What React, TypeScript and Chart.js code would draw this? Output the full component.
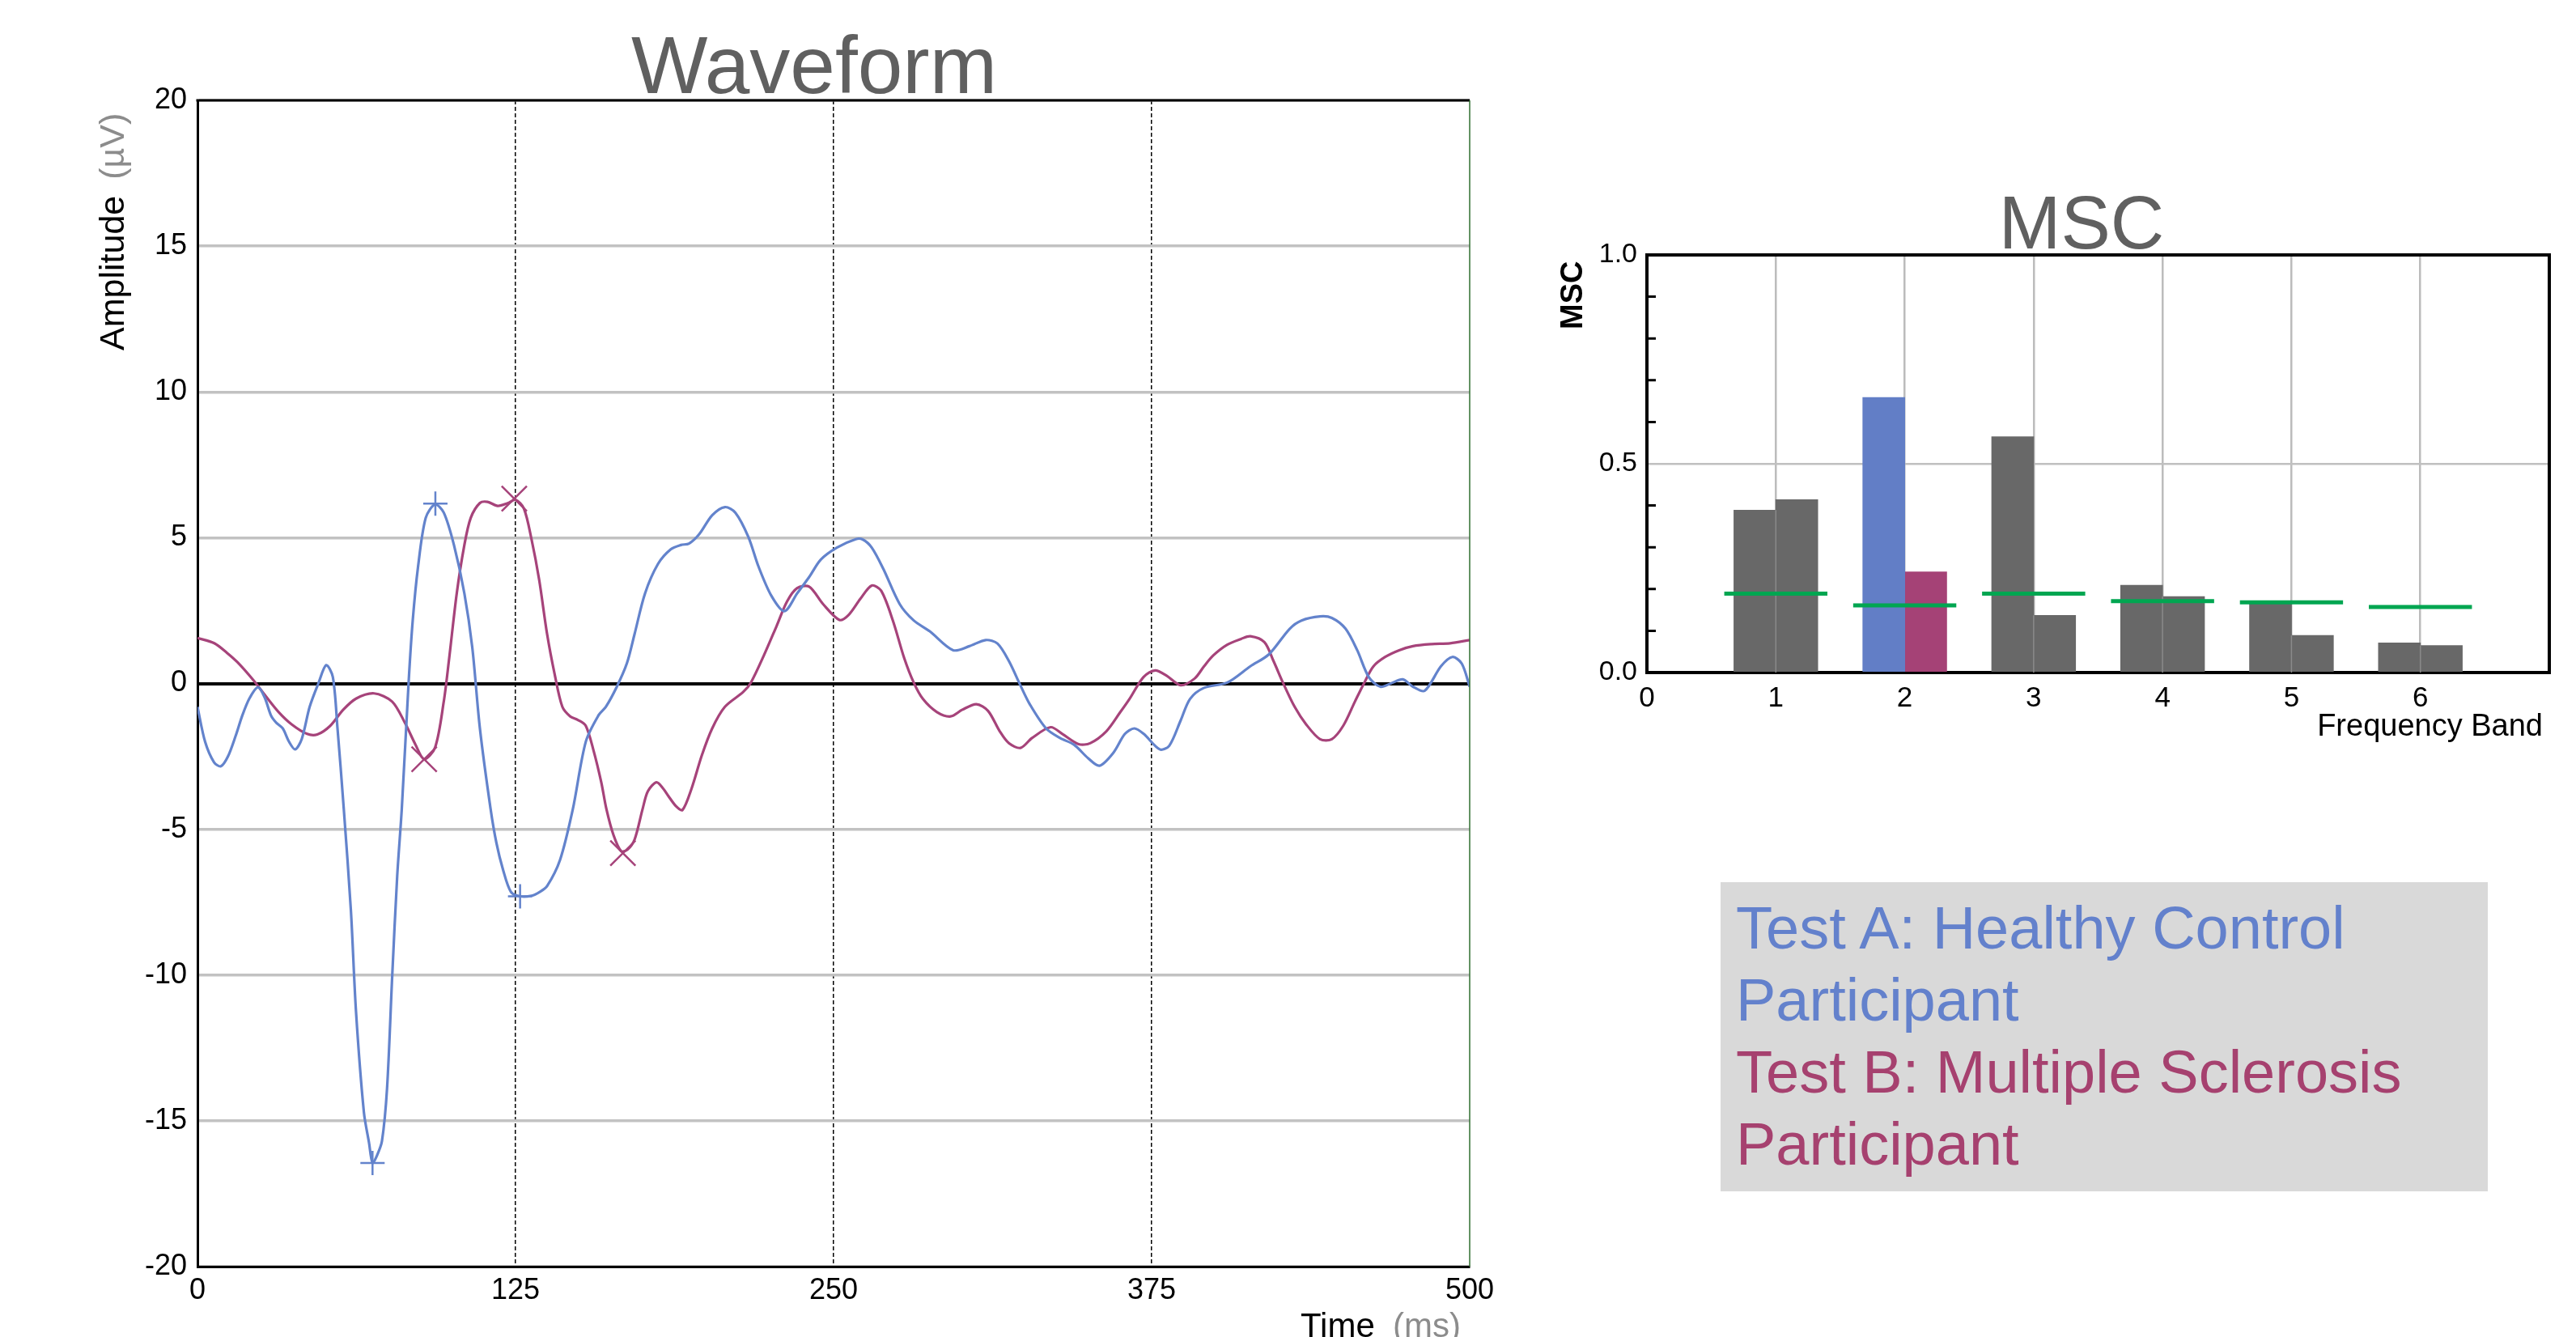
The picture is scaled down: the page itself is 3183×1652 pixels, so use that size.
import React, { useEffect, useRef } from "react";
import { Chart, registerables } from "chart.js";

Chart.register(...registerables);

const FONT = '"Liberation Sans", Arial, Helvetica, sans-serif';
const BLUE = "#6383cc";
const MAGENTA = "#a6437a";
const BAR_BLUE = "#627ec6";
const BAR_MAGENTA = "#a54276";
const BAR_GRAY = "#686868";
const GREEN = "#00a651";
const TITLE_GRAY = "#606060";

// ---------------- Waveform data (time in ms, amplitude in µV) ----------------
const timeA = [
  0, 3, 6.5, 9.2, 12, 15, 17.7, 20.5, 23.8, 26.5, 28.9, 31, 33.5, 36, 38.4, 41, 44.1, 47.5, 50.6, 53.2,
  55, 57.5, 60.3, 62.3, 65.4, 67.4, 68.8, 70.5, 72.5, 74.5, 76.5, 78.5, 80.3, 83, 84.6, 86.7, 89.7, 93.4,
  96.8, 100.8, 104.9, 108, 111, 115.2, 117.5, 120.1, 123.2, 126.8, 131.3, 134.5, 137.4, 142.5, 147.5,
  152.6, 157.7, 160.5, 164.7, 168.8, 171.8, 175.9, 181, 186, 190, 193.2, 197.2, 202.3, 207.3, 211.4,
  216.5, 220.5, 225.6, 230.7, 235.7, 240.4, 245, 251.3, 258.7, 261.4, 265, 269.6, 276, 281.5, 287.8, 297,
  303.4, 309.8, 314.4, 318.9, 323.4, 327.1, 333.5, 339, 344.5, 350, 354.5, 360, 364.5, 368.2, 371.9,
  378.2, 381.9, 386.4, 390.1, 395.6, 404.7, 413.8, 421.1, 429.3, 433.9, 441.2, 445.8, 451.2, 455.8,
  460.4, 464.9, 469, 473.7, 477.7, 482.3, 488.7, 493.2, 496.9, 500,
];
const ampA = [
  -0.8, -2.0, -2.7, -2.84, -2.5, -1.8, -1.08, -0.5, -0.13, -0.5, -1.1, -1.35, -1.54, -2.0, -2.26, -1.9,
  -0.8, 0.0, 0.63, 0.22, -1.5, -4.3, -7.78, -11.24, -14.7, -15.74, -16.44, -16.2, -15.7, -13.9, -10.1,
  -6.6, -4.3, 0.06, 2.16, 4.01, 5.68, 6.14, 5.86, 4.75, 3.09, 1.24, -1.54, -4.3, -5.47, -6.39, -7.15,
  -7.3, -7.28, -7.15, -6.95, -6.05, -4.32, -2.0, -1.08, -0.8, -0.13, 0.7, 1.7, 3.09, 4.1, 4.6, 4.75, 4.8,
  5.12, 5.77, 6.05, 5.86, 5.03, 4.01, 3.0, 2.48, 3.09, 3.65, 4.25, 4.66, 4.95, 4.94, 4.66, 3.92, 2.72,
  2.16, 1.79, 1.14, 1.28, 1.49, 1.37, 0.77, -0.06, -0.71, -1.54, -1.87, -2.1, -2.56, -2.82, -2.37, -1.73,
  -1.54, -1.73, -2.26, -2.14, -1.27, -0.53, -0.15, 0.03, 0.59, 1.0, 1.88, 2.16, 2.3, 2.25, 1.88, 1.14,
  0.21, -0.11, 0.0, 0.14, -0.11, -0.25, 0.59, 0.91, 0.68, -0.11,
];
const timeB = [
  0, 6.6, 11.6, 15.7, 21.8, 26.8, 31.9, 37, 43.1, 47.1, 52.2, 57.3, 62.3, 69.4, 76.5, 81.6, 85.7, 89.1,
  93.4, 96.8, 98.8, 101.9, 104.9, 107.4, 111, 114, 118, 122.1, 125, 128.3, 131.3, 134.3, 137.4, 140.4,
  143.4, 146.5, 149.5, 152.6, 155.6, 158.7, 160.7, 163.5, 166.5, 169, 171.8, 174.9, 177, 180.4, 183, 185,
  188, 190.6, 194.2, 198.2, 202.3, 207.3, 214.5, 217.5, 222.6, 227.6, 231.7, 235.7, 240.4, 245.9, 252.3,
  255.9, 260.5, 265, 268.7, 273.3, 277.8, 281.5, 285.1, 290.6, 296, 300.6, 306.1, 310.7, 315.3, 318.9,
  323.5, 328, 335.3, 339.9, 346.3, 350.8, 357.2, 362.7, 366.3, 371.8, 376.4, 381, 386.4, 391.9, 395.6,
  399.2, 404.7, 410.2, 413.8, 419.3, 422.9, 426.6, 431.2, 435.7, 441.2, 445.8, 450.3, 454.9, 458.6, 462.2,
  466.8, 472.3, 477.7, 485, 492.3, 500,
];
const ampB = [
  1.56, 1.38, 1.05, 0.73, 0.13, -0.43, -0.98, -1.4, -1.73, -1.75, -1.45, -0.9, -0.52, -0.34, -0.62, -1.36,
  -2.1, -2.6, -2.19, -0.62, 0.77, 3.09, 4.75, 5.68, 6.19, 6.23, 6.09, 6.19, 6.3, 6.0, 4.94, 3.55, 1.7,
  0.31, -0.8, -1.13, -1.25, -1.45, -2.28, -3.39, -4.3, -5.2, -5.75, -5.7, -5.35, -4.32, -3.7, -3.39, -3.6,
  -3.85, -4.2, -4.34, -3.6, -2.47, -1.54, -0.8, -0.29, 0.03, 0.96, 1.97, 2.81, 3.27, 3.32, 2.72, 2.18,
  2.35, 2.9, 3.36, 3.18, 2.16, 0.86, 0.03, -0.53, -0.98, -1.13, -0.9, -0.71, -0.94, -1.64, -2.05, -2.21,
  -1.87, -1.5, -1.73, -2.08, -2.05, -1.64, -0.98, -0.53, 0.22, 0.45, 0.26, -0.06, 0.17, 0.59, 0.96, 1.33,
  1.53, 1.62, 1.42, 0.77, 0.03, -0.8, -1.4, -1.91, -1.91, -1.45, -0.62, 0.03, 0.59, 0.91, 1.14, 1.28,
  1.35, 1.38, 1.49,
];
const peakTimeA = [68.8, 93.5, 126.8];
const peakAmpA = [-16.45, 6.17, -7.3];
const peakTimeB = [89.1, 124.5, 167.2];
const peakAmpB = [-2.6, 6.34, -5.82];
const timeTicks = [0, 125, 250, 375, 500];
const ampTicks = [-20, -15, -10, -5, 0, 5, 10, 15, 20];

// ---------------- MSC data ----------------
const bands = [1, 2, 3, 4, 5, 6];
const bandAxisTicks = [0, 1, 2, 3, 4, 5, 6, 7];
const mscA = [0.389, 0.659, 0.565, 0.209, 0.169, 0.071];
const mscB = [0.414, 0.241, 0.137, 0.182, 0.089, 0.065];
const mscThreshold = [0.189, 0.161, 0.189, 0.171, 0.168, 0.157];
const significant = [false, true, false, false, false, false];
const mscTicks = [0, 0.5, 1.0];
const mscMinorTicks = [0.1, 0.2, 0.3, 0.4, 0.6, 0.7, 0.8, 0.9];

const legendLinesA = ["Test A: Healthy Control", "Participant"];
const legendLinesB = ["Test B: Multiple Sclerosis", "Participant"];

Chart.defaults.font.family = FONT;

const TRANSPARENT = "rgba(0,0,0,0)";

const waveformDecor = {
  id: "waveformDecor",
  afterDatasetsDraw(chart: any) {
    const { ctx, chartArea } = chart;
    const { left, right, top, bottom } = chartArea;
    ctx.save();
    ctx.strokeStyle = "#000";
    ctx.lineWidth = 3;
    ctx.beginPath();
    ctx.moveTo(left - 1.5, top);
    ctx.lineTo(right, top);
    ctx.stroke();
    ctx.strokeStyle = "#2f6e2f";
    ctx.lineWidth = 1.5;
    ctx.beginPath();
    ctx.moveTo(right, top);
    ctx.lineTo(right, bottom);
    ctx.stroke();
    ctx.restore();
  },
  afterDraw(chart: any) {
    const { ctx, chartArea } = chart;
    const { left, right, top, bottom } = chartArea;
    ctx.save();
    ctx.font = `100px ${FONT}`;
    ctx.fillStyle = TITLE_GRAY;
    ctx.textAlign = "center";
    ctx.textBaseline = "alphabetic";
    ctx.fillText("Waveform", (left + right) / 2 - 24, top - 9);
    ctx.save();
    ctx.translate(153, 433);
    ctx.rotate(-Math.PI / 2);
    ctx.font = `43px ${FONT}`;
    ctx.textAlign = "left";
    ctx.fillStyle = "#000";
    ctx.fillText("Amplitude", 0, 0);
    const w = ctx.measureText("Amplitude").width;
    ctx.fillStyle = "#8c8c8c";
    ctx.fillText("(µV)", w + 20, 0);
    ctx.restore();
    ctx.font = `42px ${FONT}`;
    ctx.textAlign = "left";
    ctx.fillStyle = "#000";
    ctx.fillText("Time", right - 209, bottom + 87);
    ctx.fillStyle = "#8c8c8c";
    ctx.fillText("(ms)", right - 95, bottom + 87);
    ctx.restore();
  },
};

const mscDecor = {
  id: "mscDecor",
  afterDatasetDraw(chart: any, args: any) {
    if (args.index !== 0) return;
    const { ctx } = chart;
    const xs = chart.scales.x;
    const ys = chart.scales.y;
    ctx.save();
    ctx.strokeStyle = "#8a8a8a";
    ctx.lineWidth = 1.5;
    bands.forEach((b, i) => {
      if (significant[i]) return;
      const x = xs.getPixelForValue(b);
      const yTop = ys.getPixelForValue(Math.min(mscA[i], mscB[i]));
      ctx.beginPath();
      ctx.moveTo(x, ys.getPixelForValue(0));
      ctx.lineTo(x, yTop);
      ctx.stroke();
    });
    ctx.restore();
  },
  afterDatasetsDraw(chart: any) {
    const { ctx, chartArea } = chart;
    const { left, right, top, bottom } = chartArea;
    const ys = chart.scales.y;
    ctx.save();
    ctx.strokeStyle = "#000";
    ctx.lineWidth = 4;
    ctx.beginPath();
    ctx.moveTo(left - 2, top);
    ctx.lineTo(right + 2, top);
    ctx.moveTo(right, top);
    ctx.lineTo(right, bottom + 2);
    ctx.stroke();
    ctx.lineWidth = 3;
    ctx.beginPath();
    mscMinorTicks.forEach((v) => {
      const y = ys.getPixelForValue(v);
      ctx.moveTo(left, y);
      ctx.lineTo(left + 11, y);
    });
    ctx.stroke();
    ctx.restore();
  },
  afterDraw(chart: any) {
    const { ctx, chartArea } = chart;
    const { left, right, top, bottom } = chartArea;
    ctx.save();
    ctx.font = `92px ${FONT}`;
    ctx.fillStyle = TITLE_GRAY;
    ctx.textAlign = "center";
    ctx.textBaseline = "alphabetic";
    ctx.fillText("MSC", 672, top - 8);
    ctx.save();
    ctx.translate(left - 80, top + 92);
    ctx.rotate(-Math.PI / 2);
    ctx.font = `bold 38px ${FONT}`;
    ctx.fillStyle = "#000";
    ctx.textAlign = "left";
    ctx.fillText("MSC", 0, 0);
    ctx.restore();
    ctx.font = `38px ${FONT}`;
    ctx.fillStyle = "#000";
    ctx.textAlign = "right";
    ctx.fillText("Frequency Band", right - 8, bottom + 78);
    ctx.restore();
  },
};

function waveformConfig(): any {
  return {
    type: "line",
    data: {
      datasets: [
        {
          label: "Test B",
          data: timeB.map((t, i) => ({ x: t, y: ampB[i] })),
          borderColor: MAGENTA,
          borderWidth: 3.2,
          pointRadius: 0,
          tension: 0.3,
          order: 3,
        },
        {
          label: "Test A",
          data: timeA.map((t, i) => ({ x: t, y: ampA[i] })),
          borderColor: BLUE,
          borderWidth: 3.2,
          pointRadius: 0,
          tension: 0.3,
          order: 2,
        },
        {
          label: "Test B peaks",
          data: peakTimeB.map((t, i) => ({ x: t, y: peakAmpB[i] })),
          showLine: false,
          pointStyle: "crossRot",
          pointRadius: 22,
          pointBorderWidth: 2.5,
          pointBorderColor: MAGENTA,
          borderColor: MAGENTA,
          order: 1,
        },
        {
          label: "Test A peaks",
          data: peakTimeA.map((t, i) => ({ x: t, y: peakAmpA[i] })),
          showLine: false,
          pointStyle: "cross",
          pointRadius: 15,
          pointBorderWidth: 2.5,
          pointBorderColor: BLUE,
          borderColor: BLUE,
          order: 0,
        },
      ],
    },
    options: {
      animation: false,
      responsive: false,
      maintainAspectRatio: false,
      events: [],
      layout: { padding: { left: 0, right: 84, top: 124, bottom: 0 } },
      plugins: { legend: { display: false }, tooltip: { enabled: false }, title: { display: false } },
      scales: {
        x: {
          type: "linear",
          min: 0,
          max: 500,
          afterBuildTicks: (s: any) => {
            s.ticks = timeTicks.map((v) => ({ value: v }));
          },
          afterFit: (s: any) => {
            s.height = 87;
          },
          ticks: {
            color: "#000",
            font: { family: FONT, size: 36 },
            padding: 8,
            maxRotation: 0,
            autoSkip: false,
          },
          grid: {
            drawTicks: false,
            color: (c: any) =>
              c.tick && (c.tick.value === timeTicks[0] || c.tick.value === timeTicks[timeTicks.length - 1])
                ? TRANSPARENT
                : "#000",
            lineWidth: 1.5,
          },
          border: { display: true, color: "#000", width: 3, dash: [5, 3] },
        },
        y: {
          type: "linear",
          min: -20,
          max: 20,
          afterBuildTicks: (s: any) => {
            s.ticks = ampTicks.map((v) => ({ value: v }));
          },
          afterFit: (s: any) => {
            s.width = 244;
          },
          ticks: {
            color: "#000",
            font: { family: FONT, size: 36 },
            padding: 13,
          },
          grid: {
            drawTicks: false,
            color: (c: any) => (c.tick && c.tick.value === 0 ? "#000" : "#c2c2c2"),
            lineWidth: (c: any) => (c.tick && c.tick.value === 0 ? 4 : 3.5),
          },
          border: { display: true, color: "#000", width: 3 },
        },
      },
    },
    plugins: [waveformDecor],
  };
}

function mscConfig(): any {
  const half = 0.1625;
  const thresholdData: any[] = [];
  bands.forEach((b, i) => {
    thresholdData.push({ x: b - 0.4, y: mscThreshold[i] });
    thresholdData.push({ x: b + 0.4, y: mscThreshold[i] });
    thresholdData.push({ x: b + 0.45, y: null });
  });
  return {
    type: "bar",
    data: {
      datasets: [
        {
          label: "Test A",
          data: bands.map((b, i) => ({ x: b - half, y: mscA[i] })),
          backgroundColor: bands.map((_, i) => (significant[i] ? BAR_BLUE : BAR_GRAY)),
          borderWidth: 0,
          barThickness: 52,
          grouped: false,
          order: 1,
        },
        {
          label: "Test B",
          data: bands.map((b, i) => ({ x: b + half, y: mscB[i] })),
          backgroundColor: bands.map((_, i) => (significant[i] ? BAR_MAGENTA : BAR_GRAY)),
          borderWidth: 0,
          barThickness: 52,
          grouped: false,
          order: 1,
        },
        {
          type: "line",
          label: "Threshold",
          data: thresholdData,
          borderColor: GREEN,
          borderWidth: 5,
          pointRadius: 0,
          spanGaps: false,
          order: 0,
        },
      ],
    },
    options: {
      animation: false,
      responsive: false,
      maintainAspectRatio: false,
      events: [],
      layout: { padding: { left: 0, right: 33, top: 165, bottom: 0 } },
      plugins: { legend: { display: false }, tooltip: { enabled: false }, title: { display: false } },
      scales: {
        x: {
          type: "linear",
          min: 0,
          max: 7,
          offset: false,
          afterBuildTicks: (s: any) => {
            s.ticks = bandAxisTicks.map((v) => ({ value: v }));
          },
          afterFit: (s: any) => {
            s.height = 169;
          },
          ticks: {
            color: "#000",
            font: { family: FONT, size: 35 },
            padding: 11,
            maxRotation: 0,
            autoSkip: false,
            callback: (v: any) => (v >= bandAxisTicks[bandAxisTicks.length - 1] ? "" : String(v)),
          },
          grid: {
            offset: false,
            drawTicks: false,
            color: (c: any) =>
              c.tick && (c.tick.value === 0 || c.tick.value === bandAxisTicks[bandAxisTicks.length - 1])
                ? TRANSPARENT
                : "#bcbcbc",
            lineWidth: 2.5,
          },
          border: { display: true, color: "#000", width: 4 },
        },
        y: {
          type: "linear",
          min: 0,
          max: 1,
          afterBuildTicks: (s: any) => {
            s.ticks = mscTicks.map((v) => ({ value: v }));
          },
          afterFit: (s: any) => {
            s.width = 135;
          },
          ticks: {
            color: "#000",
            font: { family: FONT, size: 34 },
            padding: 12,
            callback: (v: any) => Number(v).toFixed(1),
          },
          grid: {
            drawTicks: false,
            color: (c: any) => (c.tick && c.tick.value === 0.5 ? "#c0c0c0" : TRANSPARENT),
            lineWidth: 2.5,
          },
          border: { display: true, color: "#000", width: 4 },
        },
      },
    },
    plugins: [mscDecor],
  };
}

export default function App() {
  const waveRef = useRef<HTMLCanvasElement>(null);
  const mscRef = useRef<HTMLCanvasElement>(null);

  useEffect(() => {
    const c1 = new Chart(waveRef.current as HTMLCanvasElement, waveformConfig());
    const c2 = new Chart(mscRef.current as HTMLCanvasElement, mscConfig());
    return () => {
      c1.destroy();
      c2.destroy();
    };
  }, []);

  const lineStyle: React.CSSProperties = { whiteSpace: "nowrap", height: 89 };

  return (
    <div
      style={{
        position: "fixed",
        left: 0,
        top: 0,
        width: 3183,
        height: 1652,
        background: "#fff",
        overflow: "hidden",
      }}
    >
      <canvas
        ref={waveRef}
        width={1900}
        height={1652}
        style={{ position: "absolute", left: 0, top: 0, width: 1900, height: 1652 }}
      />
      <canvas
        ref={mscRef}
        width={1283}
        height={850}
        style={{ position: "absolute", left: 1900, top: 150, width: 1283, height: 850 }}
      />
      <div
        style={{
          position: "absolute",
          left: 2126,
          top: 1090,
          width: 948,
          height: 382,
          background: "#d9d9d9",
          boxSizing: "border-box",
          paddingTop: 12,
          paddingLeft: 19,
          fontFamily: FONT,
          fontSize: 74,
          lineHeight: "89px",
        }}
      >
        {legendLinesA.map((t, i) => (
          <div key={"a" + i} style={{ ...lineStyle, color: "#6381cc" }}>
            {t}
          </div>
        ))}
        {legendLinesB.map((t, i) => (
          <div key={"b" + i} style={{ ...lineStyle, color: "#a6416f" }}>
            {t}
          </div>
        ))}
      </div>
    </div>
  );
}
